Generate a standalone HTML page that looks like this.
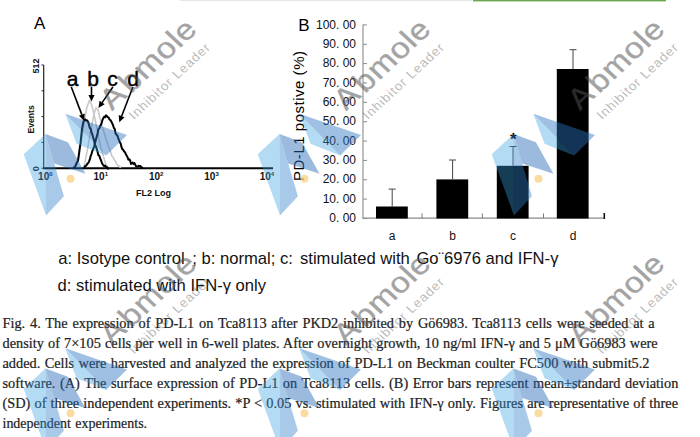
<!DOCTYPE html>
<html lang="en"><head><meta charset="utf-8"><title>Fig. 4</title>
<style>
html,body{margin:0;padding:0;background:#fff;}
body{width:700px;height:437px;overflow:hidden;position:relative;}
svg{position:absolute;left:0;top:0;display:block;}
text{font-family:"Liberation Sans", Arial, Helvetica, sans-serif;fill:#000;}
.cap{font-family:"Liberation Serif", "Times New Roman", serif;font-size:14.35px;fill:#222;stroke:#222;stroke-width:.22px;}
.leg{font-size:16.6px;fill:#111;}
.yl{font-size:12px;fill:#111;text-anchor:end;}
.xl{font-size:12px;fill:#111;text-anchor:middle;}
.fx{font-size:10px;font-weight:bold;fill:#111;}
.wm1{font-size:31px;fill:#505050;stroke:#505050;stroke-width:.4px;opacity:.52;letter-spacing:.55px;}
.wm2{font-size:13.5px;fill:#555;fill-opacity:.42;letter-spacing:1px;}
</style></head><body>
<svg width="700" height="437" viewBox="0 0 700 437">
<rect x="0" y="0" width="700" height="437" fill="#fff"/>
<rect x="180" y="0" width="292" height="1" fill="#e6e6e6"/>
<rect x="473" y="0" width="193" height="1.4" fill="#6aa84f"/>
<text x="34" y="29" font-size="17">A</text>
<path d="M43.7 65V168.5" stroke="#222" stroke-width="1.2" fill="none"/>
<path d="M43 168.3H273" stroke="#000" stroke-width="2" fill="none"/>
<path d="M41.5 65.0H43.7" stroke="#222" stroke-width="1"/>
<path d="M41.5 90.8H43.7" stroke="#222" stroke-width="1"/>
<path d="M41.5 116.6H43.7" stroke="#222" stroke-width="1"/>
<path d="M41.5 142.4H43.7" stroke="#222" stroke-width="1"/>
<path d="M41.5 168.2H43.7" stroke="#222" stroke-width="1"/>
<text class="fx" transform="translate(38.6,73.5) rotate(-90)" style="font-size:9px">512</text>
<text class="fx" transform="translate(33.8,133.5) rotate(-90)" style="font-size:8.6px">Events</text>
<text class="fx" transform="translate(38.6,171.3) rotate(-90)" style="font-size:9px">0</text>
<text class="fx" x="38.1" y="180.3">10<tspan font-size="6" dy="-4">0</tspan></text>
<text class="fx" x="93.5" y="180.3">10<tspan font-size="6" dy="-4">1</tspan></text>
<text class="fx" x="148.9" y="180.3">10<tspan font-size="6" dy="-4">2</tspan></text>
<text class="fx" x="204.3" y="180.3">10<tspan font-size="6" dy="-4">3</tspan></text>
<text class="fx" x="259.7" y="180.3">10<tspan font-size="6" dy="-4">4</tspan></text>
<text class="fx" x="136" y="195.8" style="font-size:9px">FL2 Log</text>
<path d="M74.4 167.4 L75.6 164.1 L76.8 161.3 L78.0 157.7 L79.3 151.0 L80.6 143.9 L81.9 136.6 L83.2 129.0 L84.5 120.6 L85.5 114.8 L86.6 108.5 L88.0 104.2 L89.4 100.2 L91.0 103.3 L92.0 106.5 L93.1 110.4 L94.3 115.9 L95.5 121.4 L96.7 127.1 L97.8 132.9 L98.9 138.4 L99.9 142.6 L101.0 148.3 L102.1 151.6 L103.2 155.2 L104.2 158.9 L105.3 162.8 L106.7 165.5 L108.0 167.5" stroke="#c9c9c9" stroke-width="1.6" fill="none" stroke-linejoin="round"/>
<path d="M83.8 167.2 L84.9 162.4 L85.9 157.3 L87.0 151.9 L88.1 145.9 L89.2 139.4 L90.2 133.3 L91.3 127.3 L92.7 120.9 L94.0 113.9 L95.0 110.8 L96.0 107.9 L97.0 108.9 L98.0 109.8 L99.1 114.6 L100.2 118.9 L101.4 122.9 L102.5 127.6 L103.6 131.1 L104.8 135.1 L105.9 138.6 L107.0 141.8 L108.2 145.8 L109.5 148.5 L110.7 152.2 L111.9 155.9 L113.0 157.3 L114.1 159.4 L115.3 160.9 L116.4 163.3 L117.5 165.2 L118.7 165.9 L119.8 167.0 L121.0 167.5" stroke="#c9c9c9" stroke-width="1.6" fill="none" stroke-linejoin="round"/>
<path d="M73.0 167.3 L74.1 167.7 L75.2 166.7 L76.1 164.5 L77.1 162.1 L78.0 160.9 L78.8 155.5 L79.7 148.6 L80.5 143.4 L82.0 128.9 L83.5 121.5 L85.0 119.4 L86.0 120.5 L87.0 120.3 L88.0 121.7 L89.0 124.7 L89.8 128.0 L90.7 128.8 L91.5 132.5 L92.4 134.7 L93.2 137.6 L94.1 140.5 L95.0 145.3 L95.8 146.1 L96.7 148.8 L97.5 151.6 L98.4 155.2 L99.2 155.6 L100.2 158.4 L101.1 160.5 L102.0 163.2 L103.0 164.8 L104.0 166.0 L105.0 165.6 L106.0 167.1 L107.0 167.1 L108.0 168.6 L109.0 167.8" stroke="#000" stroke-width="2" fill="none" stroke-linejoin="round"/>
<path d="M84.0 169.0 L84.8 166.3 L85.7 165.8 L86.5 165.3 L87.3 163.8 L88.2 163.0 L89.0 161.7 L89.8 159.4 L90.7 155.9 L91.5 154.1 L92.3 151.1 L93.2 148.8 L94.1 146.9 L94.9 143.4 L95.8 139.9 L96.6 137.0 L97.5 134.1 L98.3 129.4 L99.2 128.5 L100.1 126.3 L100.9 124.7 L101.8 122.6 L102.6 119.6 L103.5 117.7 L104.3 116.5 L105.2 117.3 L106.0 115.4 L106.9 116.0 L107.8 117.1 L108.7 117.6 L109.5 119.5 L110.4 120.1 L111.2 121.3 L112.1 123.1 L113.0 125.0 L113.8 127.8 L114.7 128.9 L115.5 133.2 L116.4 134.6 L117.3 135.4 L118.1 137.8 L119.0 140.1 L119.8 142.2 L120.7 143.6 L121.5 147.2 L122.4 149.3 L123.2 149.7 L124.1 151.5 L125.0 152.2 L125.8 154.0 L126.7 155.9 L127.5 157.0 L128.4 159.7 L129.3 159.3 L130.1 160.2 L131.0 163.9 L131.9 163.2 L132.7 162.6 L133.6 164.0 L134.4 163.1 L135.3 164.8 L136.2 166.4 L137.0 166.5 L137.9 166.5 L138.8 165.7 L139.6 166.3 L140.4 166.0 L141.3 167.9 L142.2 167.6 L143.0 167.8" stroke="#000" stroke-width="2" fill="none" stroke-linejoin="round"/>
<text x="66.8" y="85.6" font-size="21" stroke="#000" stroke-width=".45">a</text>
<text x="87.2" y="85.6" font-size="21" stroke="#000" stroke-width=".45">b</text>
<text x="107.3" y="85.6" font-size="21" stroke="#000" stroke-width=".45">c</text>
<text x="127.3" y="85.6" font-size="21" stroke="#000" stroke-width=".45">d</text>
<path d="M71.3 87.0L81.8 114.6" stroke="#000" stroke-width="1.6"/>
<path d="M84.1 120.7L78.9 115.7L84.7 113.5Z" fill="#000"/>
<path d="M91.5 86.5L91.5 95.0" stroke="#000" stroke-width="1.6"/>
<path d="M91.5 101.5L88.4 95.0L94.6 95.0Z" fill="#000"/>
<path d="M112.9 87.0L102.1 102.6" stroke="#000" stroke-width="1.6"/>
<path d="M98.4 107.9L99.6 100.8L104.7 104.3Z" fill="#000"/>
<path d="M132.9 87.0L121.6 116.2" stroke="#000" stroke-width="1.6"/>
<path d="M119.3 122.3L118.7 115.1L124.5 117.3Z" fill="#000"/>
<text x="298.3" y="31" font-size="17">B</text>
<text transform="translate(303.9,181) rotate(-90)" font-size="15" textLength="130" fill="#111">PD-L1 postive (%)</text>
<text class="yl" x="356" y="28.5">100. 00</text>
<path d="M363 24.9H367" stroke="#8a8a8a" stroke-width="1"/>
<text class="yl" x="356" y="47.9">90. 00</text>
<path d="M363 44.3H367" stroke="#8a8a8a" stroke-width="1"/>
<text class="yl" x="356" y="67.2">80. 00</text>
<path d="M363 63.6H367" stroke="#8a8a8a" stroke-width="1"/>
<text class="yl" x="356" y="86.6">70. 00</text>
<path d="M363 83.0H367" stroke="#8a8a8a" stroke-width="1"/>
<text class="yl" x="356" y="105.9">60. 00</text>
<path d="M363 102.3H367" stroke="#8a8a8a" stroke-width="1"/>
<text class="yl" x="356" y="125.3">50. 00</text>
<path d="M363 121.7H367" stroke="#8a8a8a" stroke-width="1"/>
<text class="yl" x="356" y="144.7">40. 00</text>
<path d="M363 141.1H367" stroke="#8a8a8a" stroke-width="1"/>
<text class="yl" x="356" y="164.0">30. 00</text>
<path d="M363 160.4H367" stroke="#8a8a8a" stroke-width="1"/>
<text class="yl" x="356" y="183.4">20. 00</text>
<path d="M363 179.8H367" stroke="#8a8a8a" stroke-width="1"/>
<text class="yl" x="356" y="202.7">10. 00</text>
<path d="M363 199.1H367" stroke="#8a8a8a" stroke-width="1"/>
<text class="yl" x="356" y="222.1">0. 00</text>
<path d="M363 218.5H367" stroke="#8a8a8a" stroke-width="1"/>
<path d="M363 24.4V218.6" stroke="#8a8a8a" stroke-width="1.1" fill="none"/>
<path d="M362.5 218.1H604.5" stroke="#8a8a8a" stroke-width="1.1" fill="none"/>
<path d="M422.0 213.5V218.1" stroke="#777" stroke-width="1"/>
<path d="M482.4 213.5V218.1" stroke="#777" stroke-width="1"/>
<path d="M543.5 213.5V218.1" stroke="#777" stroke-width="1"/>
<path d="M604.3 213V219" stroke="#111" stroke-width="1.6"/>
<rect x="376.0" y="206.5" width="31.8" height="12.0" fill="#000"/>
<path d="M392.2 206.5V189.1M388.7 189.1H395.7" stroke="#444" stroke-width="1" fill="none"/>
<text class="xl" x="392.2" y="239.8">a</text>
<rect x="436.4" y="179.4" width="31.8" height="39.1" fill="#000"/>
<path d="M452.6 179.4V160.0M449.1 160.0H456.1" stroke="#444" stroke-width="1" fill="none"/>
<text class="xl" x="452.6" y="239.8">b</text>
<rect x="496.8" y="165.8" width="31.8" height="52.7" fill="#000"/>
<path d="M513.0 165.8V146.5M509.5 146.5H516.5" stroke="#444" stroke-width="1" fill="none"/>
<text class="xl" x="513.0" y="239.8">c</text>
<rect x="556.8" y="69.0" width="31.8" height="149.5" fill="#000"/>
<path d="M573.0 69.0V49.7M569.5 49.7H576.5" stroke="#444" stroke-width="1" fill="none"/>
<text class="xl" x="573.0" y="239.8">d</text>
<text x="510" y="145" font-size="17" font-weight="bold" fill="#111">*</text>
<text class="leg" y="263.8"><tspan x="58.3">a: Isotype control</tspan> <tspan x="192.3">; b: normal; c:</tspan> <tspan x="300">stimulated with</tspan> <tspan x="416.4">Go¨6976 and IFN-γ</tspan></text>
<text class="leg" x="57.6" y="291.4">d: stimulated with IFN-γ only</text>
<text class="cap" transform="translate(2.5,328.0) scale(1,1.06)" style="word-spacing:1.23px">Fig. 4. The expression of PD-L1 on Tca8113 after PKD2 inhibited by Gö6983. Tca8113 cells were seeded at a</text>
<text class="cap" transform="translate(2.5,348.3) scale(1,1.06)" style="word-spacing:0.54px">density of 7×105 cells per well in 6-well plates. After overnight growth, 10 ng/ml IFN-γ and 5 μM Gö6983 were</text>
<text class="cap" transform="translate(2.5,368.1) scale(1,1.06)" style="word-spacing:0.82px">added. Cells were harvested and analyzed the expression of PD-L1 on Beckman coulter FC500 with submit5.2</text>
<text class="cap" transform="translate(2.5,388.3) scale(1,1.06)" style="word-spacing:0.98px">software. (A) The surface expression of PD-L1 on Tca8113 cells. (B) Error bars represent mean±standard deviation</text>
<text class="cap" transform="translate(2.5,408.0) scale(1,1.06)" style="word-spacing:0.56px">(SD) of three independent experiments. *P &lt; 0.05 vs. stimulated with IFN-γ only. Figures are representative of three</text>
<text class="cap" transform="translate(2.5,428.0) scale(1,1.06)" style="word-spacing:1.00px" textLength="144.6" lengthAdjust="spacingAndGlyphs">independent experiments.</text>
<g transform="translate(70.5,178.8)">
<path d="M-46.8 -24.6L-25 -44.9L-24.5 36.7Z" fill="#3aa0e1" fill-opacity=".38"/>
<path d="M-25 -44.9L-6.6 17.5L-24.5 36.7Z" fill="#307ec8" fill-opacity=".42"/>
<path d="M-25 -44.9L-2.6 -36.5L15 -5L-16.3 -15.4Z" fill="#2468b8" fill-opacity=".46"/>
<path d="M-5.2 -65L35.7 -23.3L6 -35Z" fill="#3aa0e1" fill-opacity=".38"/>
<path d="M-5.2 -65L56.5 -43.7L35.7 -23.3Z" fill="#2a74c0" fill-opacity=".45"/>
<circle cx="0" cy="0" r="4" fill="#f9cf78" fill-opacity=".72"/>
<g transform="translate(75.5,-114.5) scale(1,0.93) rotate(-45)">
<g transform="scale(1.1,1)"><text class="wm1" x="-54.3" y="11.8" dx="0 2.9 0.3 0 0 0">Abmole</text></g>
<text class="wm2" text-anchor="middle" x="4" y="34">Inhibitor Leader</text>
</g></g>
<g transform="translate(304.5,178.8)">
<path d="M-46.8 -24.6L-25 -44.9L-24.5 36.7Z" fill="#3aa0e1" fill-opacity=".38"/>
<path d="M-25 -44.9L-6.6 17.5L-24.5 36.7Z" fill="#307ec8" fill-opacity=".42"/>
<path d="M-25 -44.9L-2.6 -36.5L15 -5L-16.3 -15.4Z" fill="#2468b8" fill-opacity=".46"/>
<path d="M-5.2 -65L35.7 -23.3L6 -35Z" fill="#3aa0e1" fill-opacity=".38"/>
<path d="M-5.2 -65L56.5 -43.7L35.7 -23.3Z" fill="#2a74c0" fill-opacity=".45"/>
<circle cx="0" cy="0" r="4" fill="#f9cf78" fill-opacity=".72"/>
<g transform="translate(75.5,-114.5) scale(1,0.93) rotate(-45)">
<g transform="scale(1.1,1)"><text class="wm1" x="-54.3" y="11.8" dx="0 2.9 0.3 0 0 0">Abmole</text></g>
<text class="wm2" text-anchor="middle" x="4" y="34">Inhibitor Leader</text>
</g></g>
<g transform="translate(538.5,178.8)">
<path d="M-46.8 -24.6L-25 -44.9L-24.5 36.7Z" fill="#3aa0e1" fill-opacity=".38"/>
<path d="M-25 -44.9L-6.6 17.5L-24.5 36.7Z" fill="#307ec8" fill-opacity=".42"/>
<path d="M-25 -44.9L-2.6 -36.5L15 -5L-16.3 -15.4Z" fill="#2468b8" fill-opacity=".46"/>
<path d="M-5.2 -65L35.7 -23.3L6 -35Z" fill="#3aa0e1" fill-opacity=".38"/>
<path d="M-5.2 -65L56.5 -43.7L35.7 -23.3Z" fill="#2a74c0" fill-opacity=".45"/>
<circle cx="0" cy="0" r="4" fill="#f9cf78" fill-opacity=".72"/>
<g transform="translate(75.5,-114.5) scale(1,0.93) rotate(-45)">
<g transform="scale(1.1,1)"><text class="wm1" x="-54.3" y="11.8" dx="0 2.9 0.3 0 0 0">Abmole</text></g>
<text class="wm2" text-anchor="middle" x="4" y="34">Inhibitor Leader</text>
</g></g>
<g transform="translate(70.5,413.3)">
<path d="M-46.8 -24.6L-25 -44.9L-24.5 36.7Z" fill="#3aa0e1" fill-opacity=".38"/>
<path d="M-25 -44.9L-6.6 17.5L-24.5 36.7Z" fill="#307ec8" fill-opacity=".42"/>
<path d="M-25 -44.9L-2.6 -36.5L15 -5L-16.3 -15.4Z" fill="#2468b8" fill-opacity=".46"/>
<path d="M-5.2 -65L35.7 -23.3L6 -35Z" fill="#3aa0e1" fill-opacity=".38"/>
<path d="M-5.2 -65L56.5 -43.7L35.7 -23.3Z" fill="#2a74c0" fill-opacity=".45"/>
<circle cx="0" cy="0" r="4" fill="#f9cf78" fill-opacity=".72"/>
<g transform="translate(75.5,-114.5) scale(1,0.93) rotate(-45)">
<g transform="scale(1.1,1)"><text class="wm1" x="-54.3" y="11.8" dx="0 2.9 0.3 0 0 0">Abmole</text></g>
<text class="wm2" text-anchor="middle" x="4" y="34">Inhibitor Leader</text>
</g></g>
<g transform="translate(304.5,413.3)">
<path d="M-46.8 -24.6L-25 -44.9L-24.5 36.7Z" fill="#3aa0e1" fill-opacity=".38"/>
<path d="M-25 -44.9L-6.6 17.5L-24.5 36.7Z" fill="#307ec8" fill-opacity=".42"/>
<path d="M-25 -44.9L-2.6 -36.5L15 -5L-16.3 -15.4Z" fill="#2468b8" fill-opacity=".46"/>
<path d="M-5.2 -65L35.7 -23.3L6 -35Z" fill="#3aa0e1" fill-opacity=".38"/>
<path d="M-5.2 -65L56.5 -43.7L35.7 -23.3Z" fill="#2a74c0" fill-opacity=".45"/>
<circle cx="0" cy="0" r="4" fill="#f9cf78" fill-opacity=".72"/>
<g transform="translate(75.5,-114.5) scale(1,0.93) rotate(-45)">
<g transform="scale(1.1,1)"><text class="wm1" x="-54.3" y="11.8" dx="0 2.9 0.3 0 0 0">Abmole</text></g>
<text class="wm2" text-anchor="middle" x="4" y="34">Inhibitor Leader</text>
</g></g>
<g transform="translate(538.5,413.3)">
<path d="M-46.8 -24.6L-25 -44.9L-24.5 36.7Z" fill="#3aa0e1" fill-opacity=".38"/>
<path d="M-25 -44.9L-6.6 17.5L-24.5 36.7Z" fill="#307ec8" fill-opacity=".42"/>
<path d="M-25 -44.9L-2.6 -36.5L15 -5L-16.3 -15.4Z" fill="#2468b8" fill-opacity=".46"/>
<path d="M-5.2 -65L35.7 -23.3L6 -35Z" fill="#3aa0e1" fill-opacity=".38"/>
<path d="M-5.2 -65L56.5 -43.7L35.7 -23.3Z" fill="#2a74c0" fill-opacity=".45"/>
<circle cx="0" cy="0" r="4" fill="#f9cf78" fill-opacity=".72"/>
<g transform="translate(75.5,-114.5) scale(1,0.93) rotate(-45)">
<g transform="scale(1.1,1)"><text class="wm1" x="-54.3" y="11.8" dx="0 2.9 0.3 0 0 0">Abmole</text></g>
<text class="wm2" text-anchor="middle" x="4" y="34">Inhibitor Leader</text>
</g></g>
</svg></body></html>
